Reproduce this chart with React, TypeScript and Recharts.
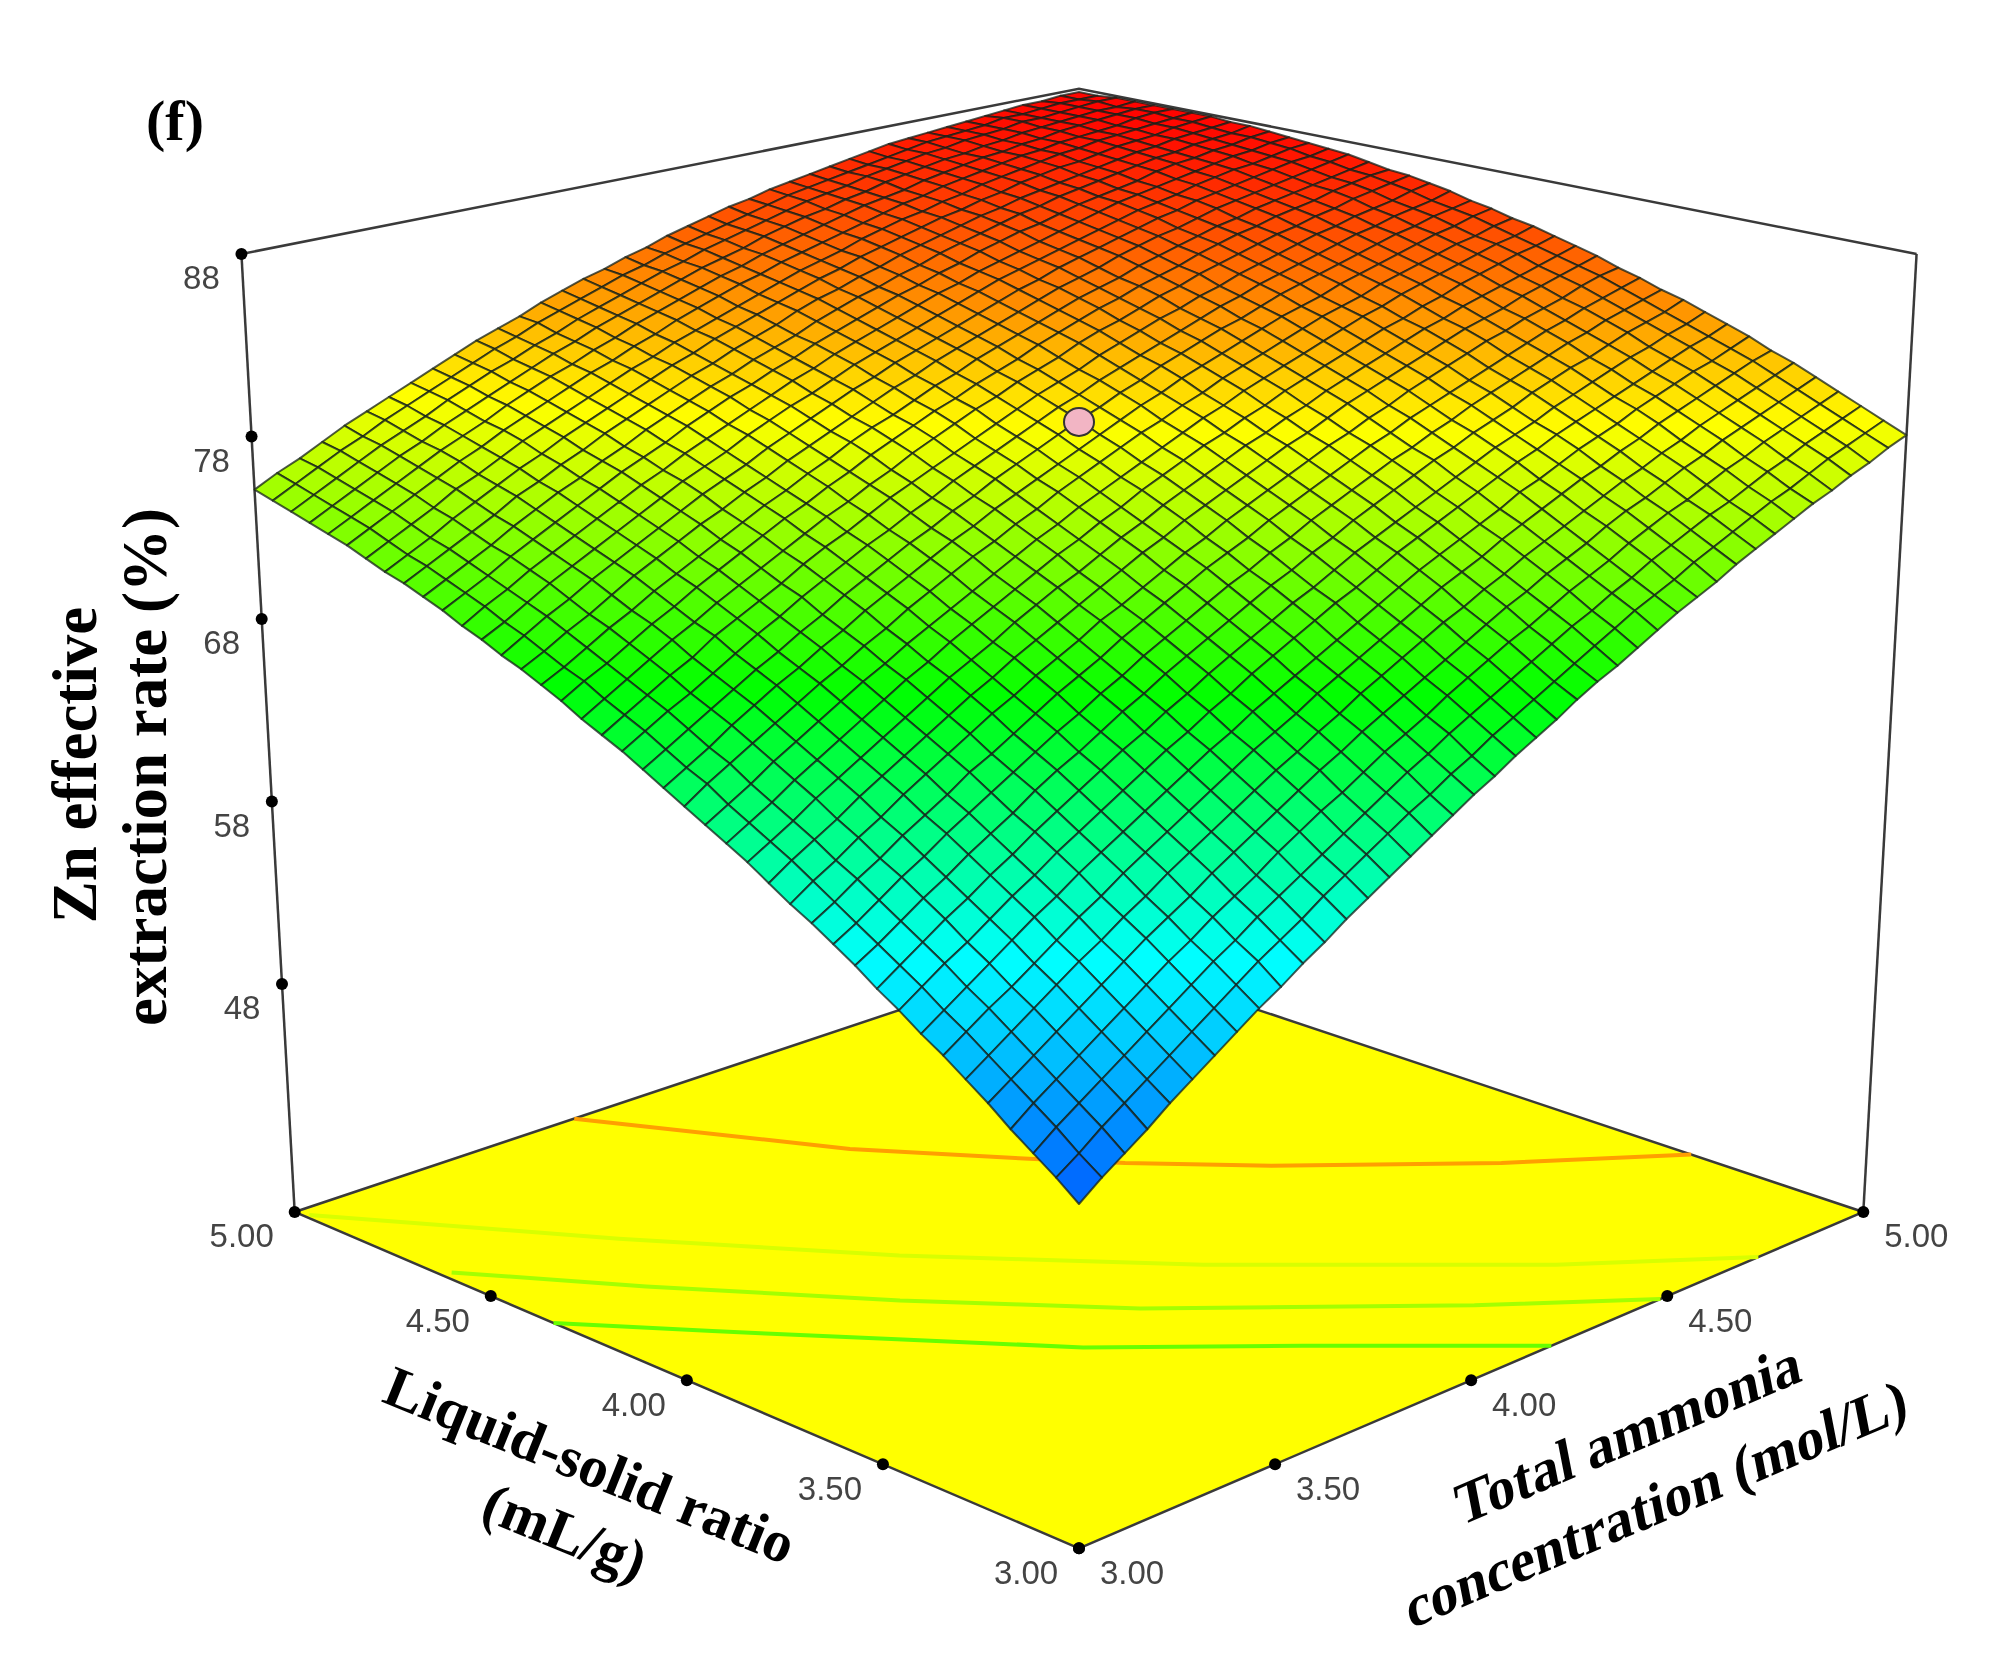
import { ScatterChart, Scatter, XAxis, YAxis } from "recharts";

// Zn effective extraction rate:
// one row per liquid-solid ratio (3.00 -> 5.00), one column per ammonia concentration (3.00 -> 5.00), 40 steps each
const rateRows = [
  [52.8,53.7,54.5,55.3,56.2,57.0,57.8,58.6,59.4,60.1,60.9,61.6,62.4,63.1,63.8,64.5,65.2,65.9,66.6,67.2,67.9,68.5,69.1,69.8,70.4,70.9,71.5,72.1,72.7,73.2,73.7,74.3,74.8,75.3,75.8,76.3,76.7,77.2,77.6,78.1,78.5],
  [53.7,54.5,55.4,56.2,57.0,57.8,58.6,59.4,60.2,61.0,61.7,62.4,63.2,63.9,64.6,65.3,66.0,66.6,67.3,67.9,68.6,69.2,69.8,70.4,71.0,71.6,72.2,72.8,73.3,73.8,74.4,74.9,75.4,75.9,76.4,76.8,77.3,77.8,78.2,78.6,79.0],
  [54.5,55.4,56.2,57.0,57.8,58.6,59.4,60.2,61.0,61.7,62.5,63.2,63.9,64.6,65.3,66.0,66.7,67.4,68.0,68.7,69.3,69.9,70.5,71.1,71.7,72.3,72.8,73.4,73.9,74.5,75.0,75.5,76.0,76.4,76.9,77.4,77.8,78.3,78.7,79.1,79.5],
  [55.3,56.2,57.0,57.8,58.6,59.4,60.2,61.0,61.7,62.5,63.2,63.9,64.7,65.4,66.1,66.7,67.4,68.1,68.7,69.3,70.0,70.6,71.2,71.8,72.3,72.9,73.5,74.0,74.5,75.1,75.6,76.1,76.5,77.0,77.5,77.9,78.4,78.8,79.2,79.6,80.0],
  [56.2,57.0,57.8,58.6,59.4,60.2,61.0,61.8,62.5,63.2,64.0,64.7,65.4,66.1,66.8,67.5,68.1,68.8,69.4,70.0,70.6,71.2,71.8,72.4,73.0,73.5,74.1,74.6,75.1,75.7,76.2,76.6,77.1,77.6,78.0,78.5,78.9,79.3,79.7,80.1,80.5],
  [57.0,57.8,58.6,59.4,60.2,61.0,61.7,62.5,63.2,64.0,64.7,65.4,66.1,66.8,67.5,68.1,68.8,69.4,70.1,70.7,71.3,71.9,72.5,73.0,73.6,74.1,74.7,75.2,75.7,76.2,76.7,77.2,77.6,78.1,78.5,79.0,79.4,79.8,80.2,80.6,81.0],
  [57.8,58.6,59.4,60.1,60.9,61.7,62.5,63.2,64.0,64.7,65.4,66.1,66.8,67.5,68.2,68.8,69.4,70.1,70.7,71.3,71.9,72.5,73.1,73.7,74.2,74.7,75.3,75.8,76.3,76.8,77.3,77.7,78.2,78.6,79.1,79.5,79.9,80.3,80.7,81.1,81.4],
  [58.5,59.3,60.1,60.9,61.7,62.5,63.2,64.0,64.7,65.4,66.1,66.8,67.5,68.2,68.8,69.5,70.1,70.7,71.3,71.9,72.5,73.1,73.7,74.3,74.8,75.3,75.8,76.3,76.9,77.3,77.8,78.3,78.7,79.1,79.6,80.0,80.4,80.8,81.1,81.5,81.9],
  [59.3,60.1,60.9,61.6,62.4,63.2,63.9,64.7,65.4,66.1,66.8,67.5,68.2,68.8,69.5,70.1,70.8,71.4,72.0,72.6,73.2,73.7,74.3,74.9,75.4,75.9,76.4,76.9,77.4,77.9,78.3,78.8,79.2,79.6,80.0,80.4,80.8,81.2,81.6,81.9,82.3],
  [60.0,60.8,61.6,62.4,63.1,63.9,64.6,65.4,66.1,66.8,67.5,68.2,68.8,69.5,70.1,70.8,71.4,72.0,72.6,73.2,73.7,74.3,74.9,75.4,75.9,76.4,76.9,77.4,77.9,78.4,78.8,79.2,79.7,80.1,80.5,80.9,81.3,81.6,82.0,82.3,82.7],
  [60.8,61.5,62.3,63.1,63.8,64.6,65.3,66.0,66.8,67.5,68.1,68.8,69.5,70.1,70.8,71.4,72.0,72.6,73.2,73.8,74.3,74.9,75.4,76.0,76.5,77.0,77.5,78.0,78.4,78.9,79.3,79.7,80.2,80.6,81.0,81.3,81.7,82.1,82.4,82.7,83.1],
  [61.5,62.2,63.0,63.8,64.5,65.3,66.0,66.7,67.4,68.1,68.8,69.4,70.1,70.7,71.4,72.0,72.6,73.2,73.8,74.3,74.9,75.4,76.0,76.5,77.0,77.5,78.0,78.4,78.9,79.3,79.8,80.2,80.6,81.0,81.4,81.8,82.1,82.5,82.8,83.1,83.4],
  [62.2,62.9,63.7,64.4,65.2,65.9,66.6,67.4,68.0,68.7,69.4,70.1,70.7,71.3,72.0,72.6,73.2,73.8,74.4,74.9,75.4,76.0,76.5,77.0,77.5,78.0,78.5,78.9,79.4,79.8,80.2,80.6,81.0,81.4,81.8,82.2,82.5,82.9,83.2,83.5,83.8],
  [62.8,63.6,64.3,65.1,65.8,66.6,67.3,68.0,68.7,69.4,70.0,70.7,71.3,71.9,72.6,73.1,73.7,74.3,74.9,75.4,76.0,76.5,77.0,77.5,78.0,78.5,78.9,79.4,79.8,80.3,80.7,81.1,81.5,81.9,82.2,82.6,82.9,83.2,83.6,83.9,84.1],
  [63.5,64.3,65.0,65.7,66.5,67.2,67.9,68.6,69.3,70.0,70.6,71.3,71.9,72.5,73.1,73.7,74.3,74.9,75.4,76.0,76.5,77.0,77.5,78.0,78.5,78.9,79.4,79.9,80.3,80.7,81.1,81.5,81.9,82.3,82.6,82.9,83.3,83.6,83.9,84.2,84.5],
  [64.2,64.9,65.6,66.4,67.1,67.8,68.5,69.2,69.9,70.6,71.2,71.8,72.5,73.1,73.7,74.2,74.8,75.4,75.9,76.5,77.0,77.5,78.0,78.5,78.9,79.4,79.8,80.3,80.7,81.1,81.5,81.9,82.3,82.6,83.0,83.3,83.6,83.9,84.2,84.5,84.8],
  [64.8,65.5,66.2,67.0,67.7,68.4,69.1,69.8,70.5,71.1,71.8,72.4,73.0,73.6,74.2,74.8,75.3,75.9,76.4,77.0,77.5,78.0,78.5,78.9,79.4,79.8,80.3,80.7,81.1,81.5,81.9,82.3,82.6,83.0,83.3,83.7,84.0,84.3,84.6,84.8,85.1],
  [65.4,66.1,66.8,67.6,68.3,69.0,69.7,70.4,71.0,71.7,72.3,72.9,73.5,74.1,74.7,75.3,75.8,76.4,76.9,77.4,77.9,78.4,78.9,79.4,79.8,80.3,80.7,81.1,81.5,81.9,82.3,82.7,83.0,83.4,83.7,84.0,84.3,84.6,84.9,85.1,85.4],
  [66.0,66.8,67.5,68.2,68.9,69.6,70.3,70.9,71.6,72.2,72.9,73.5,74.1,74.7,75.2,75.8,76.3,76.9,77.4,77.9,78.4,78.9,79.3,79.8,80.2,80.7,81.1,81.5,81.9,82.3,82.7,83.0,83.3,83.7,84.0,84.3,84.6,84.9,85.1,85.4,85.6],
  [66.6,67.3,68.0,68.8,69.5,70.2,70.8,71.5,72.1,72.8,73.4,74.0,74.6,75.2,75.7,76.3,76.8,77.3,77.8,78.3,78.8,79.3,79.8,80.2,80.7,81.1,81.5,81.9,82.3,82.7,83.0,83.3,83.7,84.0,84.3,84.6,84.9,85.2,85.4,85.7,85.9],
  [67.2,67.9,68.6,69.3,70.0,70.7,71.3,72.0,72.6,73.3,73.9,74.5,75.1,75.6,76.2,76.7,77.3,77.8,78.3,78.8,79.3,79.7,80.2,80.6,81.1,81.5,81.9,82.3,82.6,83.0,83.4,83.7,84.0,84.3,84.6,84.9,85.2,85.4,85.7,85.9,86.1],
  [67.8,68.5,69.2,69.8,70.5,71.2,71.9,72.5,73.2,73.8,74.4,75.0,75.5,76.1,76.6,77.2,77.7,78.2,78.7,79.2,79.7,80.1,80.6,81.0,81.4,81.8,82.2,82.6,83.0,83.3,83.7,84.0,84.3,84.6,84.9,85.2,85.4,85.7,85.9,86.1,86.4],
  [68.3,69.0,69.7,70.4,71.0,71.8,72.4,73.0,73.6,74.3,74.9,75.4,76.0,76.6,77.1,77.6,78.1,78.6,79.1,79.6,80.1,80.5,80.9,81.4,81.8,82.2,82.6,82.9,83.3,83.6,84.0,84.3,84.6,84.9,85.2,85.4,85.7,85.9,86.1,86.4,86.6],
  [68.8,69.5,70.2,70.9,71.6,72.2,72.9,73.5,74.1,74.7,75.3,75.9,76.4,77.0,77.5,78.1,78.6,79.1,79.6,80.0,80.5,80.9,81.3,81.8,82.2,82.5,82.9,83.3,83.6,84.0,84.3,84.6,84.9,85.2,85.4,85.7,85.9,86.2,86.4,86.6,86.8],
  [69.4,70.1,70.7,71.4,72.1,72.7,73.4,74.0,74.6,75.2,75.8,76.3,76.9,77.4,78.0,78.5,79.0,79.5,79.9,80.4,80.8,81.2,81.7,82.1,82.5,82.9,83.2,83.6,83.9,84.2,84.6,84.9,85.2,85.4,85.7,85.9,86.1,86.4,86.6,86.8,86.9],
  [69.9,70.5,71.2,71.9,72.5,73.2,73.8,74.4,75.0,75.6,76.2,76.7,77.3,77.8,78.4,78.9,79.3,79.8,80.3,80.7,81.2,81.6,82.0,82.4,82.8,83.2,83.5,83.8,84.2,84.5,84.8,85.1,85.4,85.6,85.9,86.1,86.3,86.5,86.7,86.9,87.1],
  [70.4,71.0,71.7,72.3,73.0,73.7,74.3,74.9,75.5,76.0,76.6,77.1,77.7,78.2,78.7,79.2,79.7,80.2,80.6,81.1,81.5,81.9,82.3,82.7,83.1,83.5,83.8,84.1,84.5,84.8,85.1,85.3,85.6,85.9,86.1,86.3,86.5,86.7,86.9,87.1,87.3],
  [70.8,71.5,72.2,72.8,73.5,74.1,74.7,75.3,75.9,76.5,77.0,77.5,78.1,78.6,79.1,79.6,80.1,80.5,81.0,81.4,81.8,82.2,82.6,83.0,83.4,83.7,84.1,84.4,84.7,85.0,85.3,85.6,85.8,86.1,86.3,86.5,86.7,86.9,87.1,87.2,87.4],
  [71.3,71.9,72.6,73.3,73.9,74.5,75.1,75.7,76.3,76.9,77.4,77.9,78.5,79.0,79.5,79.9,80.4,80.9,81.3,81.7,82.1,82.5,82.9,83.3,83.7,84.0,84.3,84.6,84.9,85.2,85.5,85.8,86.0,86.2,86.5,86.7,86.9,87.0,87.2,87.4,87.5],
  [71.7,72.4,73.0,73.7,74.3,74.9,75.5,76.1,76.7,77.2,77.8,78.3,78.8,79.3,79.8,80.3,80.7,81.2,81.6,82.0,82.4,82.8,83.2,83.5,83.9,84.2,84.5,84.8,85.1,85.4,85.7,86.0,86.2,86.4,86.6,86.8,87.0,87.2,87.3,87.5,87.6],
  [72.2,72.8,73.4,74.1,74.7,75.3,75.9,76.5,77.1,77.6,78.1,78.7,79.2,79.7,80.1,80.6,81.0,81.5,81.9,82.3,82.7,83.1,83.4,83.8,84.1,84.5,84.8,85.1,85.3,85.6,85.9,86.1,86.3,86.5,86.8,87.0,87.1,87.3,87.4,87.6,87.7],
  [72.6,73.2,73.8,74.4,75.1,75.7,76.3,76.8,77.4,77.9,78.5,79.0,79.5,80.0,80.4,80.9,81.3,81.7,82.2,82.6,83.0,83.3,83.7,84.0,84.4,84.7,85.0,85.3,85.6,85.8,86.1,86.3,86.5,86.7,86.9,87.1,87.2,87.4,87.5,87.6,87.8],
  [73.0,73.6,74.2,74.8,75.4,76.1,76.6,77.2,77.7,78.3,78.8,79.3,79.8,80.3,80.7,81.2,81.6,82.0,82.5,82.9,83.2,83.6,83.9,84.3,84.6,84.9,85.2,85.5,85.7,86.0,86.2,86.4,86.6,86.8,87.0,87.2,87.3,87.5,87.6,87.7,87.8],
  [73.3,73.9,74.5,75.2,75.8,76.4,77.0,77.5,78.1,78.6,79.1,79.6,80.1,80.6,81.0,81.5,81.9,82.3,82.7,83.1,83.5,83.8,84.2,84.5,84.8,85.1,85.4,85.6,85.9,86.1,86.4,86.6,86.8,86.9,87.1,87.3,87.4,87.5,87.7,87.8,87.9],
  [73.7,74.3,74.9,75.5,76.2,76.7,77.3,77.9,78.4,78.9,79.4,79.9,80.4,80.8,81.3,81.7,82.1,82.5,82.9,83.3,83.7,84.0,84.3,84.7,85.0,85.3,85.5,85.8,86.0,86.3,86.5,86.7,86.9,87.1,87.2,87.4,87.5,87.6,87.7,87.8,87.9],
  [74.1,74.7,75.3,75.9,76.5,77.1,77.6,78.2,78.7,79.2,79.7,80.2,80.6,81.1,81.5,82.0,82.4,82.8,83.2,83.5,83.9,84.2,84.5,84.8,85.1,85.4,85.7,85.9,86.2,86.4,86.6,86.8,87.0,87.1,87.3,87.4,87.5,87.6,87.8,87.9,87.9],
  [74.4,75.0,75.6,76.2,76.8,77.4,77.9,78.4,79.0,79.5,80.0,80.4,80.9,81.3,81.8,82.2,82.6,83.0,83.4,83.7,84.1,84.4,84.7,85.0,85.3,85.6,85.8,86.0,86.3,86.5,86.7,86.9,87.0,87.2,87.3,87.5,87.6,87.7,87.8,87.9,87.9],
  [74.7,75.3,75.9,76.5,77.1,77.6,78.2,78.7,79.2,79.7,80.2,80.7,81.1,81.6,82.0,82.4,82.8,83.2,83.6,83.9,84.2,84.6,84.9,85.2,85.4,85.7,85.9,86.2,86.4,86.6,86.8,86.9,87.1,87.2,87.4,87.5,87.6,87.7,87.8,87.8,87.9],
  [75.0,75.6,76.2,76.8,77.4,77.9,78.4,79.0,79.5,80.0,80.4,80.9,81.3,81.8,82.2,82.6,83.0,83.4,83.7,84.1,84.4,84.7,85.0,85.3,85.6,85.8,86.0,86.3,86.5,86.7,86.9,87.0,87.2,87.3,87.4,87.6,87.6,87.7,87.8,87.9,87.9],
  [75.3,75.9,76.5,77.1,77.6,78.2,78.7,79.2,79.7,80.2,80.7,81.1,81.6,82.0,82.4,82.8,83.2,83.5,83.9,84.2,84.5,84.8,85.1,85.4,85.7,85.9,86.1,86.3,86.5,86.7,86.9,87.1,87.2,87.3,87.4,87.6,87.6,87.7,87.8,87.8,87.8],
  [75.6,76.2,76.7,77.3,77.9,78.4,78.9,79.4,79.9,80.4,80.9,81.3,81.7,82.2,82.6,83.0,83.3,83.7,84.0,84.4,84.7,85.0,85.3,85.5,85.8,86.0,86.2,86.4,86.6,86.8,87.0,87.1,87.2,87.3,87.4,87.5,87.6,87.7,87.7,87.8,87.8],
];

const ammoniaTicks = [3.0, 3.5, 4.0, 4.5, 5.0];
const ratioTicks = [3.0, 3.5, 4.0, 4.5, 5.0];
const rateTicks = [48, 58, 68, 78, 88];

// floor contours as [ammonia, ratio] pairs
const contourOrange = [[3.66,5.0],[3.92,4.52],[4.12,4.25],[4.23,4.11],[4.41,3.91],[4.72,3.62],[5.0,3.4]];
const contourLime = [[3.01,4.97],[3.33,4.49],[3.63,4.08],[3.98,3.67],[4.42,3.23],[4.7,3.0]];
const contourLight = [[3.02,4.58],[3.22,4.29],[3.49,3.93],[3.76,3.61],[4.18,3.21],[4.43,3.0]];
const contourGreen = [[3.0,4.28],[3.17,4.06],[3.37,3.81],[3.57,3.56],[3.84,3.3],[4.14,3.0]];

const centerPoint = { ammonia: 4.0, ratio: 4.0, rate: 79.2 };

const FLOOR_RATE = 35;
const TOP_RATE = 88;
const TICK_FLOOR = 35.5;
const W = 1990;
const H = 1660;

// camera used for the 3D box (page pixels)
function project(ammonia: number, ratio: number, rate: number) {
  const u = (ammonia - 3) / 2;
  const v = (ratio - 3) / 2;
  const w = (rate - FLOOR_RATE) / (TOP_RATE - FLOOR_RATE);
  const d = 1 + 0.142 * (u + v) - 0.0726 * w;
  return {
    x: 1079 + (895.7 * (u - v)) / d,
    y: (1548.3 - 164.2 * (u + v) - 1112.5 * w) / d,
  };
}

const colorStops = [
  [52.8, 0, 90, 255],
  [61, 0, 255, 255],
  [70, 0, 255, 0],
  [79, 255, 255, 0],
  [88, 255, 0, 0],
];

function rateColor(z: number) {
  for (let i = 1; i < colorStops.length; i++) {
    const a = colorStops[i - 1];
    const b = colorStops[i];
    if (z <= b[0]) {
      const t = Math.max(0, (z - a[0]) / (b[0] - a[0]));
      return `rgb(${a[1] + (b[1] - a[1]) * t},${a[2] + (b[2] - a[2]) * t},${a[3] + (b[3] - a[3]) * t})`;
    }
  }
  return "rgb(255,0,0)";
}

const last = rateRows.length - 1;
const cells: any[] = [];
for (let j = last - 1; j >= 0; j--) {
  for (let i = last - 1; i >= 0; i--) {
    const corners = [
      project(3 + (2 * i) / last, 3 + (2 * j) / last, rateRows[j][i]),
      project(3 + (2 * (i + 1)) / last, 3 + (2 * j) / last, rateRows[j][i + 1]),
      project(3 + (2 * (i + 1)) / last, 3 + (2 * (j + 1)) / last, rateRows[j + 1][i + 1]),
      project(3 + (2 * i) / last, 3 + (2 * (j + 1)) / last, rateRows[j + 1][i]),
    ];
    const mean = (rateRows[j][i] + rateRows[j][i + 1] + rateRows[j + 1][i + 1] + rateRows[j + 1][i]) / 4;
    cells.push({ x: corners[0].x, y: corners[0].y, corners, fill: rateColor(mean) });
  }
}

const floorCorners = [project(3, 3, FLOOR_RATE), project(5, 3, FLOOR_RATE), project(5, 5, FLOOR_RATE), project(3, 5, FLOOR_RATE)];
const floor = [{ ...floorCorners[0], corners: floorCorners, fill: "#ffff00" }];
const floorOutline = [...floorCorners, floorCorners[0]];
const topBack = [project(3, 5, TOP_RATE), project(5, 5, TOP_RATE), project(5, 3, TOP_RATE)];
const leftPost = [project(3, 5, FLOOR_RATE), project(3, 5, TOP_RATE)];
const rightPost = [project(5, 3, FLOOR_RATE), project(5, 3, TOP_RATE)];

const contourLine = (pts: number[][]) => pts.map(([a, r]) => project(a, r, FLOOR_RATE));

// the tick marks in the source sit evenly along the box edges
const along = (a: { x: number; y: number }, b: { x: number; y: number }, t: number) => ({
  x: a.x + (b.x - a.x) * t,
  y: a.y + (b.y - a.y) * t,
});
const front = project(3, 3, FLOOR_RATE);
const rightEnd = project(5, 3, FLOOR_RATE);
const leftEnd = project(3, 5, FLOOR_RATE);
const leftTop = project(3, 5, TOP_RATE);

const ammoniaMarks = ammoniaTicks.map((t) => ({ ...along(front, rightEnd, (t - 3) / 2), label: t.toFixed(2), dx: 53, dy: 24 }));
const ratioMarks = ratioTicks.map((t) => ({ ...along(front, leftEnd, (t - 3) / 2), label: t.toFixed(2), dx: -53, dy: 24 }));
const rateMarks = rateTicks.map((t) => ({
  ...along(leftEnd, leftTop, (t - TICK_FLOOR) / (TOP_RATE - TICK_FLOOR)),
  label: String(t),
  dx: -40,
  dy: 24,
}));
const allMarks = [...ammoniaMarks, ...ratioMarks, ...rateMarks];

const titles = [
  { x: 175, y: 120, text: "(f)", size: 58, angle: 0, skew: 0 },
  { x: 75, y: 765, text: "Zn effective", size: 63, angle: -90, skew: 0 },
  { x: 145, y: 767, text: "extraction rate (%)", size: 63, angle: -90, skew: 0 },
  { x: 590, y: 1465, text: "Liquid-solid ratio", size: 58, angle: 22, skew: 0 },
  { x: 565, y: 1532, text: "(mL/g)", size: 58, angle: 22, skew: 0 },
  { x: 1628, y: 1434, text: "Total ammonia", size: 58, angle: -23, skew: -12 },
  { x: 1656, y: 1504, text: "concentration (mol/L)", size: 58, angle: -23, skew: -12 },
];

const Polygon = (props: any) => {
  const { cx, cy, payload, stroke, strokeWidth } = props;
  const pts = payload.corners.map((c: any) => `${cx + c.x - payload.x},${cy + c.y - payload.y}`).join(" ");
  return <polygon points={pts} fill={payload.fill} stroke={stroke} strokeWidth={strokeWidth} strokeOpacity={0.75} strokeLinejoin="round" />;
};

const CellShape = (props: any) => <Polygon {...props} stroke="#14201a" strokeWidth={2} />;
const FloorShape = (props: any) => <Polygon {...props} stroke="none" strokeWidth={0} />;
const NoDot = () => <g />;
const TickDot = (props: any) => <circle cx={props.cx} cy={props.cy} r={6} fill="#000" />;
const CenterDot = (props: any) => <ellipse cx={props.cx} cy={props.cy} rx={15} ry={14} fill="#f2b5c4" stroke="#333" strokeWidth={2} />;
const TickLabel = (props: any) => (
  <text
    x={props.cx + props.payload.dx}
    y={props.cy + props.payload.dy}
    textAnchor="middle"
    dominantBaseline="central"
    fontFamily="Liberation Sans"
    fontSize={33}
    fill="#444"
  >
    {props.payload.label}
  </text>
);
const TitleText = (props: any) => {
  const { cx, cy, payload } = props;
  return (
    <text
      transform={`translate(${cx},${cy}) rotate(${payload.angle}) skewX(${payload.skew})`}
      textAnchor="middle"
      dominantBaseline="central"
      fontFamily="Liberation Serif"
      fontWeight="bold"
      fontSize={payload.size}
      fill="#000"
    >
      {payload.text}
    </text>
  );
};

const boxLine = { stroke: "#3a3a3a", strokeWidth: 2.5 };

export default function App() {
  return (
    <div style={{ position: "absolute", left: 0, top: 0, width: W, height: H, background: "#fff", filter: "blur(0.6px)" }}>
      <ScatterChart width={W} height={H} margin={{ top: 0, right: 0, bottom: 0, left: 0 }}>
        <XAxis type="number" dataKey="x" domain={[0, W]} hide />
        <YAxis type="number" dataKey="y" domain={[0, H]} reversed hide />
        <Scatter data={topBack} line={boxLine} shape={NoDot} isAnimationActive={false} />
        <Scatter data={leftPost} line={boxLine} shape={NoDot} isAnimationActive={false} />
        <Scatter data={rightPost} line={boxLine} shape={NoDot} isAnimationActive={false} />
        <Scatter data={floor} shape={FloorShape} isAnimationActive={false} />
        <Scatter data={floorOutline} line={boxLine} shape={NoDot} isAnimationActive={false} />
        <Scatter data={contourLine(contourOrange)} line={{ stroke: "#ff9f00", strokeWidth: 4 }} shape={NoDot} isAnimationActive={false} />
        <Scatter data={contourLine(contourLime)} line={{ stroke: "#d8ff00", strokeWidth: 4 }} shape={NoDot} isAnimationActive={false} />
        <Scatter data={contourLine(contourLight)} line={{ stroke: "#a4ff00", strokeWidth: 4 }} shape={NoDot} isAnimationActive={false} />
        <Scatter data={contourLine(contourGreen)} line={{ stroke: "#66ff00", strokeWidth: 4 }} shape={NoDot} isAnimationActive={false} />
        <Scatter data={cells} shape={CellShape} isAnimationActive={false} />
        <Scatter data={[project(centerPoint.ammonia, centerPoint.ratio, centerPoint.rate)]} shape={CenterDot} isAnimationActive={false} />
        <Scatter data={allMarks} shape={TickDot} isAnimationActive={false} />
        <Scatter data={allMarks} shape={TickLabel} isAnimationActive={false} />
        <Scatter data={titles} shape={TitleText} isAnimationActive={false} />
      </ScatterChart>
    </div>
  );
}
